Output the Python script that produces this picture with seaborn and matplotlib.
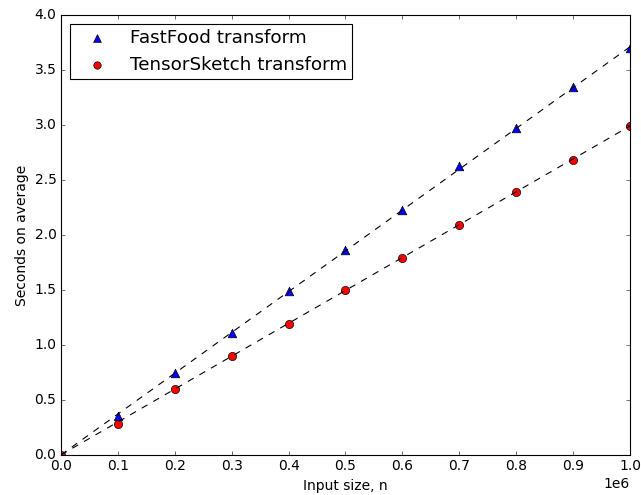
import matplotlib
matplotlib.use("Agg")
import matplotlib.pyplot as plt
import seaborn as sns

plt.style.use("classic")

input_sizes = [0, 100000, 200000, 300000, 400000, 500000, 600000, 700000, 800000, 900000, 1000000]
fastfood_sec = [0.0, 0.35, 0.74, 1.11, 1.49, 1.86, 2.23, 2.63, 2.97, 3.34, 3.70]
tensorsketch_sec = [0.0, 0.28, 0.60, 0.90, 1.19, 1.50, 1.79, 2.09, 2.39, 2.68, 2.99]
fit_x = [0, 1000000]
fastfood_fit = [0.0, 3.71]
tensorsketch_fit = [0.0, 2.99]

fig = plt.figure(figsize=(641 / 80, 495 / 80), dpi=80)
fig.subplots_adjust(left=0.095, right=0.983, bottom=0.081, top=0.970)
ax = fig.add_subplot(111)

sns.scatterplot(x=input_sizes, y=fastfood_sec, ax=ax, marker="^", color="blue", s=60,
                edgecolor="black", linewidth=0.6, label="FastFood transform", zorder=2)
sns.scatterplot(x=input_sizes, y=tensorsketch_sec, ax=ax, marker="o", color="red", s=55,
                edgecolor="black", linewidth=0.6, label="TensorSketch transform", zorder=2)

sns.lineplot(x=fit_x, y=fastfood_fit, ax=ax, color="black", linestyle="--", linewidth=1,
             legend=False, zorder=4)
sns.lineplot(x=fit_x, y=tensorsketch_fit, ax=ax, color="black", linestyle="--", linewidth=1,
             legend=False, zorder=4)

ax.set_xlim(0, 1000000)
ax.set_ylim(0, 4.0)
ax.set_xticks([i * 100000 for i in range(11)])
ax.set_yticks([i * 0.5 for i in range(9)])
ax.ticklabel_format(style="sci", axis="x", scilimits=(0, 0))
ax.xaxis.get_offset_text().set_fontsize(12.5)
ax.set_xlabel("Input size, n", fontsize=12.5)
ax.set_ylabel("Seconds on average", fontsize=12.5)
ax.tick_params(labelsize=12.5)
ax.legend(loc="upper left", scatterpoints=1, fontsize=16.5, borderpad=0.27,
          labelspacing=0.49, handlelength=2.37, handletextpad=0.62, borderaxespad=0.5,
          markerscale=0.9)

fig.savefig("out.png", dpi=80)
